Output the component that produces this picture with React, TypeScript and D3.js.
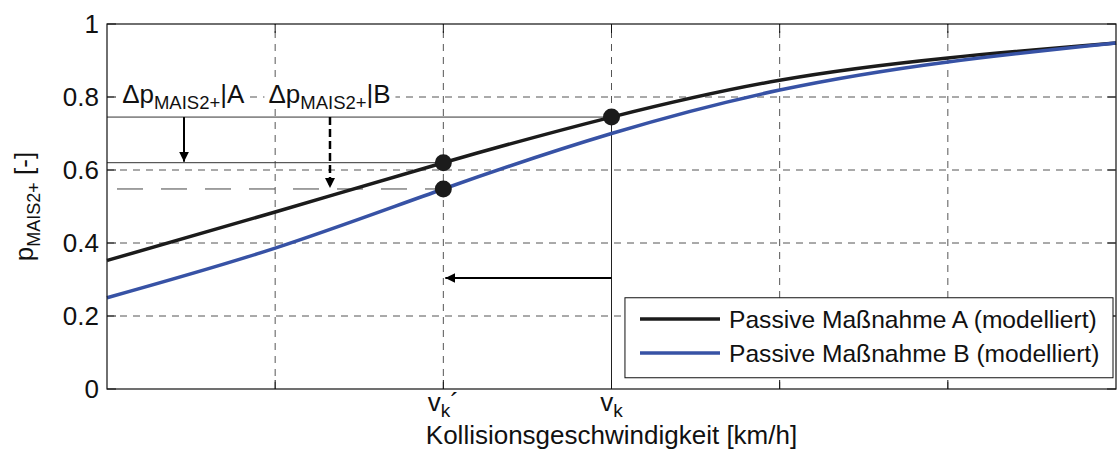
import React from "react";
import * as d3 from "d3";

// abstract speed steps (no numeric labels in the original, only v_k' and v_k)
const speeds = [0, 1, 2, 3, 4, 5, 6];
const seriesA = [0.352, 0.485, 0.62, 0.745, 0.846, 0.907, 0.948];
const seriesB = [0.25, 0.386, 0.548, 0.7, 0.819, 0.896, 0.948];
const yTicks = [0, 0.2, 0.4, 0.6, 0.8, 1];
const yTickLabels = ["0", "0.2", "0.4", "0.6", "0.8", "1"];
const vk = 3;
const vkPrime = 2;
const legendLabels = ["Passive Maßnahme A (modelliert)", "Passive Maßnahme B (modelliert)"];

const W = 1118;
const H = 457;
const margin = { top: 24, right: 2, bottom: 68, left: 107 };
const FONT = "'Liberation Sans', Arial, Helvetica, sans-serif";
const BLUE = "#3752a5";
const BLACK = "#1b1b1b";
const FS = 26;

export default function App() {
  const x = d3.scaleLinear().domain([0, 6]).range([margin.left, W - margin.right]);
  const y = d3.scaleLinear().domain([0, 1]).range([H - margin.bottom, margin.top]);

  const line = d3
    .line<number>()
    .x((_, i) => x(speeds[i]))
    .y((d) => y(d))
    .curve(d3.curveNatural);

  const x0 = x(0), x1 = x(6), y0 = y(0), y1 = y(1);
  const aAtVk = seriesA[vk];
  const aAtVkp = seriesA[vkPrime];
  const bAtVkp = seriesB[vkPrime];
  const arrowAx = x(0.458);
  const arrowBx = x(1.326);
  const horizArrowY = y(0.304);

  return (
    <svg width={W} height={H} style={{ position: "absolute", left: 0, top: 0 }} fontFamily={FONT}>
      <defs>
        <marker id="ah" viewBox="0 0 10 10" refX="10" refY="5" markerWidth="10" markerHeight="10" markerUnits="userSpaceOnUse" orient="auto">
          <path d="M0,0 L10,5 L0,10 z" fill="#000" />
        </marker>
      </defs>
      <rect x={0} y={0} width={W} height={H} fill="#fff" />

      {/* grid */}
      {speeds.slice(1, -1).map((s) => (
        <line key={"gx" + s} x1={x(s)} x2={x(s)} y1={y0} y2={y1} stroke="#555" strokeWidth={1} strokeDasharray="7,6" />
      ))}
      {yTicks.slice(1, -1).map((t) => (
        <line key={"gy" + t} x1={x0} x2={x1} y1={y(t)} y2={y(t)} stroke="#555" strokeWidth={1} strokeDasharray="7,6" />
      ))}

      {/* reference lines */}
      <line x1={x0} x2={x(vk)} y1={y(aAtVk)} y2={y(aAtVk)} stroke="#333" strokeWidth={1} />
      <line x1={x0} x2={x(vkPrime)} y1={y(aAtVkp)} y2={y(aAtVkp)} stroke="#333" strokeWidth={1} />
      <line x1={x0} x2={x(vkPrime)} y1={y(bAtVkp)} y2={y(bAtVkp)} stroke="#444" strokeWidth={1} strokeDasharray="26,18" strokeDashoffset={-10} />
      <line x1={x(vk)} x2={x(vk)} y1={y(aAtVk)} y2={y0} stroke="#222" strokeWidth={1} />

      {/* arrows */}
      <line x1={arrowAx} x2={arrowAx} y1={y(aAtVk)} y2={y(aAtVkp) - 1} stroke="#000" strokeWidth={2} markerEnd="url(#ah)" />
      <line x1={arrowBx} x2={arrowBx} y1={y(aAtVk)} y2={y(bAtVkp) - 1} stroke="#000" strokeWidth={2.5} strokeDasharray="8,4" markerEnd="url(#ah)" />
      <line x1={x(vk)} x2={x(vkPrime) + 2} y1={horizArrowY} y2={horizArrowY} stroke="#000" strokeWidth={2} markerEnd="url(#ah)" />

      {/* curves */}
      <path d={line(seriesA) || ""} fill="none" stroke={BLACK} strokeWidth={3.5} />
      <path d={line(seriesB) || ""} fill="none" stroke={BLUE} strokeWidth={3.5} />

      {/* dots */}
      <circle cx={x(vk)} cy={y(aAtVk)} r={8.5} fill={BLACK} />
      <circle cx={x(vkPrime)} cy={y(aAtVkp)} r={8.5} fill={BLACK} />
      <circle cx={x(vkPrime)} cy={y(bAtVkp)} r={8.5} fill={BLACK} />

      {/* delta labels */}
      {[
        { sx: x(0.09), tag: "A" },
        { sx: x(0.96), tag: "B" },
      ].map((l) => (
        <g key={l.tag}>
          <rect x={l.sx - 4} y={y(0.8) - 16} width={131} height={27} fill="#fff" />
          <text x={l.sx} y={y(0.8) + 6} fontSize={FS} fill="#111">
            Δp
            <tspan fontSize={18.5} dy={6}>MAIS2+</tspan>
            <tspan dy={-6}>|{l.tag}</tspan>
          </text>
        </g>
      ))}

      {/* axes box */}
      <rect x={x0} y={y1} width={x1 - x0} height={y0 - y1} fill="none" stroke="#111" strokeWidth={1.2} />
      {speeds.slice(1, -1).map((s) => (
        <g key={"tx" + s}>
          <line x1={x(s)} x2={x(s)} y1={y0} y2={y0 - 9} stroke="#111" />
          <line x1={x(s)} x2={x(s)} y1={y1} y2={y1 + 9} stroke="#111" />
        </g>
      ))}
      {yTicks.map((t) => (
        <g key={"ty" + t}>
          <line x1={x0} x2={x0 + 9} y1={y(t)} y2={y(t)} stroke="#111" />
          <line x1={x1} x2={x1 - 9} y1={y(t)} y2={y(t)} stroke="#111" />
        </g>
      ))}
      {yTicks.map((t, i) => (
        <text key={"yl" + t} x={x0 - 8} y={y(t)} dy="0.36em" textAnchor="end" fontSize={FS} fill="#111">
          {yTickLabels[i]}
        </text>
      ))}

      {/* x tick labels */}
      <text x={x(vkPrime)} y={y0 + 22} textAnchor="middle" fontSize={FS} fill="#111">
        v<tspan fontSize={19} dy={6}>k</tspan><tspan dy={-6}>´</tspan>
      </text>
      <text x={x(vk)} y={y0 + 22} textAnchor="middle" fontSize={FS} fill="#111">
        v<tspan fontSize={19} dy={6}>k</tspan>
      </text>

      {/* axis titles */}
      <text x={(x0 + x1) / 2} y={H - 13} textAnchor="middle" fontSize={FS} fill="#111">
        Kollisionsgeschwindigkeit [km/h]
      </text>
      <text transform={`translate(33,${(y0 + y1) / 2}) rotate(-90)`} textAnchor="middle" fontSize={FS} fill="#111">
        p<tspan fontSize={18} dy={7}>MAIS2+</tspan><tspan dy={-7}> [-]</tspan>
      </text>

      {/* legend */}
      <g>
        <rect x={x(3.08)} y={y(0.25)} width={x1 - 3 - x(3.08)} height={80} fill="#fff" stroke="#111" strokeWidth={1} />
        {legendLabels.map((lab, i) => (
          <g key={lab}>
            <line x1={640} x2={720} y1={319 + i * 34} y2={319 + i * 34} stroke={i === 0 ? BLACK : BLUE} strokeWidth={3.5} />
            <text x={729} y={319 + i * 34} dy="0.36em" fontSize={24.6} fill="#111">
              {lab}
            </text>
          </g>
        ))}
      </g>
    </svg>
  );
}
